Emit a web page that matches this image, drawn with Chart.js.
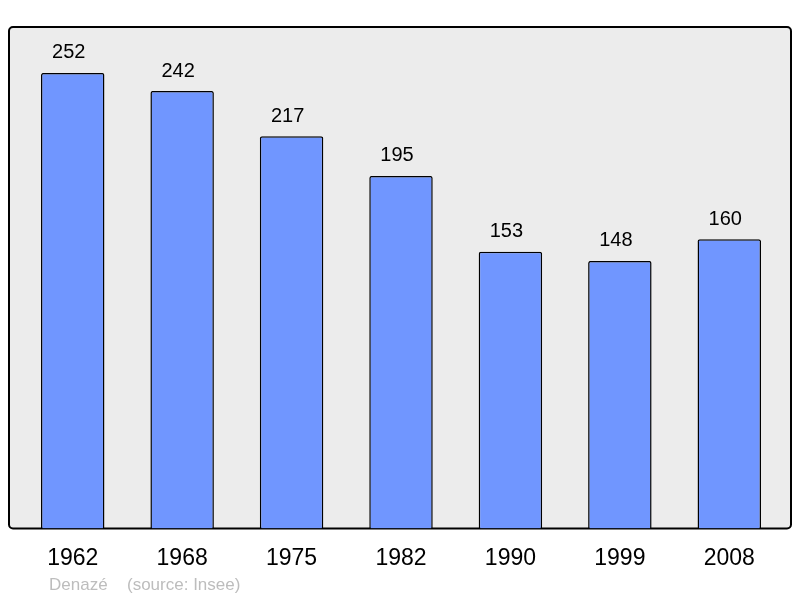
<!DOCTYPE html>
<html>
<head>
<meta charset="utf-8">
<script src="https://cdn.jsdelivr.net/npm/chart.js@4/dist/chart.umd.min.js"></script>
<style>
  html, body { margin: 0; padding: 0; background: #fff; }
  #wrap { width: 800px; height: 598px; }
</style>
</head>
<body>
<div id="wrap"><canvas id="chart"></canvas></div>
<script>
// population counts per census year
const years = ["1962", "1968", "1975", "1982", "1990", "1999", "2008"];
const population = [252, 242, 217, 195, 153, 148, 160];
const commune = "Denazé";
const source = "(source: Insee)";

const FONT = "'Liberation Sans', Arial, sans-serif";

// grey frame behind the bars, a bit wider than the chart area
const frame = {
  id: "frame",
  beforeDatasetsDraw(chart) {
    const { ctx, chartArea: a } = chart;
    const left = a.left - 9, right = a.right + 7;
    ctx.save();
    ctx.beginPath();
    ctx.roundRect(left, a.top, right - left, a.bottom - a.top, 4);
    ctx.fillStyle = "#ececec";
    ctx.fill();
    ctx.lineWidth = 2;
    ctx.strokeStyle = "#000";
    ctx.stroke();
    ctx.restore();
  },
};

// numbers above the bars (a touch left of centre, like the original) + footer
const labels = {
  id: "labels",
  afterDatasetsDraw(chart) {
    const { ctx } = chart;
    const meta = chart.getDatasetMeta(0);
    ctx.save();
    ctx.fillStyle = "#000";
    ctx.font = "20px " + FONT;
    ctx.textAlign = "center";
    ctx.textBaseline = "middle";
    meta.data.forEach((bar, i) => {
      ctx.fillText(population[i], bar.x - 4, bar.y - 20);
    });
    ctx.font = "17px " + FONT;
    ctx.fillStyle = "#bdbdbd";
    ctx.textAlign = "left";
    ctx.fillText(commune, 49, 585);
    ctx.fillText(source, 127, 585);
    ctx.restore();
  },
};

new Chart(document.getElementById("chart"), {
  type: "bar",
  data: {
    labels: years,
    datasets: [
      {
        data: population,
        backgroundColor: "#7096ff",
        borderColor: "#000",
        borderWidth: 1.5,
        borderRadius: 2,
        borderSkipped: "bottom",
        categoryPercentage: 1,
        barPercentage: 0.58,
      },
    ],
  },
  options: {
    responsive: true,
    maintainAspectRatio: false,
    animation: false,
    layout: { padding: { left: 18, right: 16, top: 27, bottom: 10 } },
    plugins: {
      legend: { display: false },
      tooltip: { enabled: false },
    },
    scales: {
      x: {
        grid: { display: false, drawTicks: false },
        border: { display: false },
        ticks: {
          color: "#000",
          padding: 16,
          font: { family: FONT, size: 23 },
        },
      },
      y: {
        display: false,
        min: 0,
        max: 277.4,
      },
    },
  },
  plugins: [frame, labels],
});
</script>
</body>
</html>
